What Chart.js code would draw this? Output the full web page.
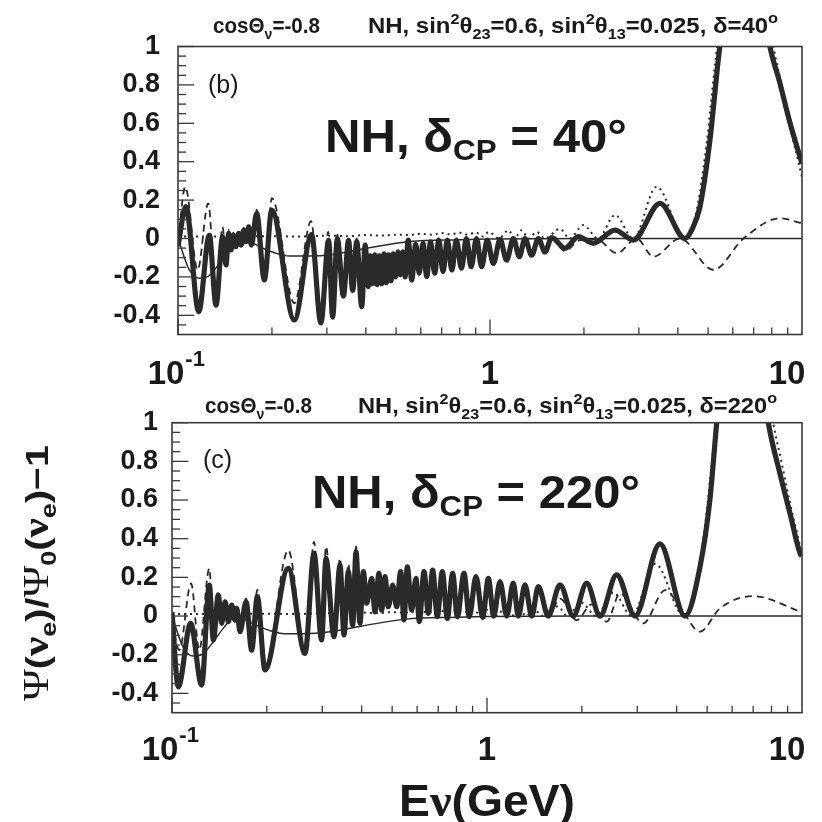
<!DOCTYPE html>
<html>
<head>
<meta charset="utf-8">
<script src="https://cdn.jsdelivr.net/npm/chart.js@4.4.1/dist/chart.umd.min.js"></script>
<style>
  html, body { margin: 0; padding: 0; background: #fff; }
  #wrap { position: relative; width: 822px; height: 822px; overflow: hidden; background: #fff; }
  canvas { position: absolute; left: 0; }
  #cTop { top: 0; }
  #cBot { top: 390px; }
</style>
</head>
<body>
<div id="wrap">
  <canvas id="cTop" width="822" height="390"></canvas>
  <canvas id="cBot" width="822" height="432"></canvas>
</div>
<script>
// ---- axis ticks ----
const yTickValues = [-0.4, -0.2, 0, 0.2, 0.4, 0.6, 0.8, 1];
const yTickLabels = ['-0.4', '-0.2', '0', '0.2', '0.4', '0.6', '0.8', '1'];
const xMajorTicks = [0.1, 1, 10];
const xTickBase = ['10', '1', '10'];
const xTickExp = ['-1', '', ''];

// ---- panel (b): NH, delta = 40 deg  [E (GeV), ratio - 1] ----
const fullB = [
  [0.1,-0.04],[0.106,0.166],[0.1165,-0.381],[0.126,0.017],[0.1324,-0.347],[0.139,0.01],
  [0.1425,-0.138],[0.1454,0.027],[0.1479,-0.06],[0.1504,0.018],[0.1534,-0.042],[0.1565,0.027],
  [0.1595,-0.034],[0.1624,0.044],[0.1652,-0.017],[0.1685,0.061],[0.1718,-0.034],[0.1787,0.131],
  [0.1891,-0.216],[0.1997,0.148],[0.236,-0.424],[0.268,0.02],[0.287,-0.44],[0.304,-0.01],
  [0.313,-0.41],[0.324,0.0],[0.339,-0.30],[0.352,-0.01],[0.363,-0.27],[0.374,-0.016],
  [0.388,-0.355],[0.398,-0.035],[0.407,-0.25],
  [0.4125,-0.09],[0.4197,-0.235],[0.427,-0.085],[0.4344,-0.24],[0.4419,-0.09],[0.4495,-0.235],
  [0.4574,-0.08],[0.4653,-0.23],[0.4733,-0.085],[0.4816,-0.22],[0.4899,-0.08],[0.4984,-0.2],
  [0.5071,-0.07],[0.5159,-0.19],[0.5249,-0.07],[0.534,-0.2],
  [0.547,-0.008],[0.561,-0.216],[0.578,-0.03],[0.593,-0.181],[0.61,-0.025],[0.627,-0.198],
  [0.645,-0.017],[0.665,-0.181],[0.685,-0.008],[0.707,-0.173],[0.73,-0.008],[0.755,-0.164],
  [0.78,-0.008],[0.81,-0.155],[0.84,0.0],[0.87,-0.147],[0.905,0.0],[0.94,-0.147],[0.98,-0.008],
  [1.025,-0.13],[1.077,-0.004],[1.13,-0.113],[1.188,0.0],[1.242,-0.095],[1.294,0.0],[1.36,-0.087],
  [1.429,0.0],[1.5,-0.07],[1.577,0.005],[1.739,-0.051],[1.919,0.01],[2.144,-0.025],[2.516,0.044],
  [2.88,-0.008],[3.507,0.183],[4.217,0.0],[4.45,0.05],[4.71,0.166],[5.07,0.513],[5.39,0.93],
  [5.7,1.25],[6.3,1.6],[7.1,1.45],[7.89,1.0],[8.5,0.808],[9.16,0.6],[10,0.39]
];
const dashedLowB = [
  [0.1,-0.02],[0.1055,0.27],[0.1156,-0.164],[0.125,0.183],[0.1324,-0.30],[0.139,0.06],
  [0.1425,-0.12],[0.1454,0.045],[0.1479,-0.05],[0.1504,0.03],[0.1534,-0.035],[0.1565,0.04],
  [0.1595,-0.03],[0.1624,0.055],[0.1652,-0.01],[0.1685,0.075],[0.1718,-0.025],[0.1787,0.15],
  [0.1891,-0.2],[0.2,0.21],[0.236,-0.337],[0.267,0.09],[0.287,-0.40],[0.303,0.035],
  [0.313,-0.38],[0.324,0.02],[0.339,-0.28],[0.352,0.0],[0.363,-0.26],[0.374,0.0],
  [0.388,-0.34],[0.398,-0.02]
];
const dashedHighB = [
  [1.5,-0.085],[1.58,-0.005],[1.74,-0.065],[1.93,-0.01],[2.2,-0.005],[2.55,-0.077],[2.95,0.0],
  [3.34,-0.095],[4.06,0.0],[5.2,-0.164],[6.49,0.0],[8.5,0.105],[10,0.079]
];

// ---- panel (c): NH, delta = 220 deg ----
const fullC = [
  [0.1,0.02],[0.1047,-0.366],[0.1146,-0.038],[0.1242,-0.357],[0.1314,0.16],[0.1353,-0.124],
  [0.1403,0.109],[0.1438,-0.038],[0.1474,0.074],[0.151,-0.029],[0.1547,0.057],[0.1585,-0.021],
  [0.1605,0.04],[0.1644,-0.081],[0.1718,0.074],[0.179,-0.176],[0.1866,0.1],[0.1973,-0.279],
  [0.234,0.247],[0.2644,-0.193],[0.2824,0.324],[0.2985,-0.124],[0.3082,0.298],
  [0.3268,-0.107],[0.3415,0.264],[0.3516,-0.098],[0.3629,0.23],[0.3747,-0.047],[0.3838,0.333],
  [0.3952,-0.038],[0.405,0.23],[0.415,0.066],[0.4305,0.195],[0.441,0.022],[0.454,0.221],
  [0.463,0.031],[0.4745,0.204],[0.486,0.048],[0.5018,0.16],[0.5167,0.048],[0.532,0.23],
  [0.545,-0.02],[0.5585,0.255],[0.5765,0.031],[0.5951,0.195],[0.6097,-0.029],[0.631,0.23],
  [0.6513,0.014],[0.6723,0.238],[0.6955,-0.003],[0.7214,0.23],[0.7482,-0.012],[0.778,0.221],
  [0.805,-0.003],[0.8453,0.221],[0.8786,-0.003],[0.9226,0.204],[0.9692,-0.007],[1.01,0.195],
  [1.05,0.0],[1.0997,0.178],[1.155,0.0],[1.212,0.17],[1.257,0.0],[1.32,0.161],[1.387,0.0],
  [1.455,0.152],[1.565,0.0],[1.705,0.161],[1.879,0.0],[2.073,0.17],[2.284,0.0],[2.58,0.213],
  [2.95,0.0],[3.54,0.373],[4.253,0.0],[4.746,0.255],[5.1,0.6],[5.36,0.997],[5.6,1.3],
  [6.2,1.7],[7.0,1.6],[7.82,1.0],[8.51,0.738],[9.16,0.531],[9.86,0.324],[10,0.31]
];
const dashedLowC = [
  [0.1,-0.03],[0.1055,-0.176],[0.115,0.169],[0.122,-0.176],[0.1314,0.247],[0.1353,-0.1],
  [0.1403,0.12],[0.1438,-0.03],[0.1474,0.08],[0.151,-0.025],[0.1547,0.06],[0.1585,-0.02],
  [0.1605,0.045],[0.1644,-0.075],[0.1718,0.09],[0.179,-0.17],[0.1866,0.136],[0.1973,-0.26],
  [0.234,0.341],[0.2644,-0.17],[0.2824,0.384],[0.2985,-0.11],[0.3082,0.36],[0.3268,-0.1],
  [0.3415,0.3],[0.3516,-0.09],[0.3629,0.27],[0.3747,-0.04],[0.3838,0.36],[0.3952,-0.03]
];
const dashedHighC = [
  [1.565,0.0],[1.705,0.09],[1.926,-0.021],[2.15,0.06],[2.399,-0.029],[2.644,0.117],
  [3.134,-0.038],[3.674,0.134],[4.1,0.048],[4.746,-0.081],[5.49,0.04],[7.0,0.103],[10,0.02]
];

// ---- curves common to both panels ----
const dottedCurve = [
  [0.1,0.01],[0.15,0.01],[0.2,0.012],[0.25,0.01],[0.3,0.015],[0.35,0.012],[0.4,0.018],[0.45,0.015],
  [0.5,0.02],[0.55,0.018],[0.6,0.025],[0.65,0.02],[0.7,0.028],[0.75,0.022],[0.8,0.03],[0.85,0.02],
  [0.9,0.032],[0.95,0.01],[0.99,0.034],[1.07,0.0],[1.145,0.043],[1.2,0.0],[1.26,0.043],[1.33,0.0],
  [1.41,0.034],[1.5,0.0],[1.676,0.05],[1.8,0.0],[1.99,0.07],[2.22,0.0],[2.516,0.122],[2.88,0.0],
  [3.42,0.27],[4.22,0.0],[4.6,0.15],[4.95,0.5],[5.3,0.95],[5.6,1.25],[6.2,1.6],[7.0,1.55],
  [7.6,1.3],[8.1,1.0],[8.6,0.8],[9.2,0.57],[10,0.32]
];
const thinCurve = [
  [0.1,0.0],[0.1087,-0.164],[0.117,-0.207],[0.1245,-0.199],[0.1357,-0.13],[0.146,-0.06],
  [0.1573,-0.008],[0.1693,-0.017],[0.1868,-0.05],[0.206,-0.077],[0.2275,-0.091],[0.2633,-0.091],
  [0.313,-0.083],[0.402,-0.051],[0.554,-0.016],[0.8,-0.006],[1.0,-0.002],[2,0],[10,0]
];

// where the dashed curve runs underneath the full curve it shares its points
const inRange = (pts, lo, hi) => pts.filter(p => p[0] > lo && p[0] < hi);
const dashedB = [...dashedLowB, ...inRange(fullB, 0.4, 1.49), ...dashedHighB];
const dashedC = [...dashedLowC, ...inRange(fullC, 0.4, 1.56), ...dashedHighC];

// ---- drawing helpers ----
const SANS = '"Liberation Sans", Arial, Helvetica, sans-serif';
const SERIF = '"Liberation Serif", "Times New Roman", serif';
const INK = '#1a1a1a';

function fontOf(r) {
  return `${r.w || 'bold'} ${r.s}px ${r.f === 'serif' ? SERIF : SANS}`;
}
// draws a run of differently sized pieces; if `fit` is given the run is
// squeezed or stretched horizontally to that width
function drawRich(ctx, runs, x, y, align, fit) {
  let w = 0;
  runs.forEach(r => { ctx.font = fontOf(r); r._w = ctx.measureText(r.t).width; w += r._w; });
  const k = fit ? fit / w : 1;
  const total = w * k;
  const x0 = align === 'center' ? x - total / 2 : (align === 'right' ? x - total : x);
  ctx.save();
  ctx.translate(x0, y);
  ctx.scale(k, 1);
  ctx.textAlign = 'left';
  ctx.textBaseline = 'alphabetic';
  let cx = 0;
  runs.forEach(r => { ctx.font = fontOf(r); ctx.fillText(r.t, cx, r.dy || 0); cx += r._w; });
  ctx.restore();
  return total;
}
const toXY = pts => pts.map(([x, y]) => ({ x, y }));

function subtitleRuns(delta) {
  return [
    { t: 'NH, sin', s: 22 }, { t: '2', s: 15, dy: -9 }, { t: 'θ', s: 22 }, { t: '23', s: 15, dy: 6 },
    { t: '=0.6, sin', s: 22 }, { t: '2', s: 15, dy: -9 }, { t: 'θ', s: 22 }, { t: '13', s: 15, dy: 6 },
    { t: '=0.025, δ=' + delta, s: 22 }, { t: 'o', s: 15, dy: -10 }
  ];
}
const cosRuns = [{ t: 'cosΘ', s: 22 }, { t: 'ν', s: 15, dy: 6 }, { t: '=-0.8', s: 22 }];

const panelDecor = {
  id: 'panelDecor',
  afterDatasetsDraw(chart, args, o) {
    const { ctx, chartArea: a, scales: { x, y } } = chart;
    const oy = o.offsetY;
    ctx.save();
    ctx.fillStyle = INK;
    ctx.strokeStyle = '#3a3a3a';

    // frame
    ctx.lineWidth = 1.6;
    ctx.strokeRect(a.left, a.top, a.right - a.left, a.bottom - a.top);

    // inward ticks on the left edge
    ctx.lineWidth = 1.3;
    for (let k = -9; k <= 20; k++) {
      const v = k * 0.05;
      const py = y.getPixelForValue(v);
      const len = (k % 4 === 0) ? 16 : 8;
      ctx.beginPath(); ctx.moveTo(a.left, py); ctx.lineTo(a.left + len, py); ctx.stroke();
    }
    // inward ticks on the bottom edge
    [0.1, 1].forEach(dec => {
      for (let m = 1; m <= 9; m++) {
        const v = dec * m;
        const px = x.getPixelForValue(v);
        const len = m === 1 ? 15 : 7;
        ctx.beginPath(); ctx.moveTo(px, a.bottom); ctx.lineTo(px, a.bottom - len); ctx.stroke();
      }
    });

    // x tick labels
    xMajorTicks.forEach((v, i) => {
      const px = x.getPixelForValue(v) + o.xLabelShift[i];
      const base = a.bottom + o.xLabelDrop;
      if (xTickExp[i]) {
        ctx.font = `bold 33px ${SANS}`;
        const wb = ctx.measureText(xTickBase[i]).width;
        drawRich(ctx, [{ t: xTickBase[i], s: 33 }], px - wb / 2, base, 'left');
        drawRich(ctx, [{ t: xTickExp[i], s: 22 }], px + wb / 2 + 1, base - 18, 'left');
      } else {
        drawRich(ctx, [{ t: xTickBase[i], s: 33 }], px, base, 'center');
      }
    });

    // headline above the frame
    drawRich(ctx, cosRuns, o.cosX[0], o.subY - oy, 'left', o.cosX[1] - o.cosX[0]);
    drawRich(ctx, subtitleRuns(o.delta), o.nhX[0], o.subY - oy, 'left', o.nhX[1] - o.nhX[0]);

    // panel tag
    drawRich(ctx, [{ t: o.tag, s: 25, w: 'normal' }], o.tagX, o.tagY - oy, 'left');

    // large label
    drawRich(ctx, [
      { t: 'NH, δ', s: 47 }, { t: 'CP', s: 30, dy: 8 }, { t: ' = ' + o.delta + '°', s: 47 }
    ], o.bigX[0], o.bigY - oy, 'left', o.bigX[1] - o.bigX[0]);

    if (o.axisTitles) {
      // x title
      drawRich(ctx, [{ t: 'E', s: 44 }, { t: 'ν', s: 46, f: 'serif' }, { t: '(GeV)', s: 44 }],
        487, 816 - oy, 'center', 176);
      // y title
      ctx.save();
      ctx.translate(37, 573 - oy);
      ctx.rotate(-Math.PI / 2);
      drawRich(ctx, [
        { t: 'Ψ', s: 35, f: 'serif', w: 'normal' }, { t: '(', s: 32 }, { t: 'ν', s: 35, f: 'serif' },
        { t: 'e', s: 22, dy: 8 }, { t: ')/', s: 32 }, { t: 'Ψ', s: 35, f: 'serif', w: 'normal' },
        { t: '0', s: 22, dy: 8 }, { t: '(', s: 32 }, { t: 'ν', s: 35, f: 'serif' },
        { t: 'e', s: 22, dy: 8 }, { t: ')−1', s: 32 }
      ], 0, 11, 'center', 256);
      ctx.restore();
    }
    ctx.restore();
  }
};

function makePanel(id, cfg) {
  const line = (data, width, dash, order) => ({
    data: toXY(data), borderColor: '#2a2a2a', borderWidth: width, borderDash: dash,
    pointRadius: 0, fill: false, cubicInterpolationMode: 'monotone', clip: 0, order
  });
  return new Chart(document.getElementById(id), {
    type: 'line',
    data: {
      datasets: [
        line(cfg.full, 5.2, [], 0),
        line(cfg.dashed, 1.8, [7, 5], 1),
        line(dottedCurve, 2, [2, 4], 2),
        line(thinCurve, 1.5, [], 3)
      ]
    },
    options: {
      responsive: false,
      animation: false,
      events: [],
      layout: { padding: { top: cfg.top, right: 20, left: 0, bottom: 0 } },
      plugins: { legend: { display: false }, tooltip: { enabled: false }, panelDecor: cfg.decor },
      scales: {
        x: {
          type: 'logarithmic', min: 0.1, max: 10,
          ticks: { display: false },
          grid: { display: false, drawTicks: false },
          border: { display: false },
          afterFit(s) { s.height = cfg.xAxisHeight; }
        },
        y: {
          type: 'linear', min: -0.5, max: 1,
          afterBuildTicks(s) { s.ticks = yTickValues.map(v => ({ value: v })); },
          ticks: {
            autoSkip: false,
            callback: (v, i) => yTickLabels[i],
            font: { family: SANS, size: 27, weight: 'bold' },
            color: INK,
            padding: cfg.yPad
          },
          grid: { display: false, drawTicks: false },
          border: { display: false },
          afterFit(s) { s.width = cfg.yAxisWidth; }
        }
      }
    },
    plugins: [panelDecor]
  });
}

makePanel('cTop', {
  full: fullB, dashed: dashedB, top: 46.5, xAxisHeight: 390 - 334.5, yAxisWidth: 178, yPad: 18,
  decor: {
    offsetY: 0, delta: '40', tag: '(b)', tagX: 208, tagY: 93, bigX: [325, 627], bigY: 152,
    cosX: [213, 320], nhX: [368, 778], subY: 33, xLabelDrop: 49, xLabelShift: [-12, 0, -15],
    axisTitles: false
  }
});
makePanel('cBot', {
  full: fullC, dashed: dashedC, top: 422.7 - 390, xAxisHeight: 432 - (712.7 - 390), yAxisWidth: 172, yPad: 14,
  decor: {
    offsetY: 390, delta: '220', tag: '(c)', tagX: 203, tagY: 468, bigX: [312, 640], bigY: 508,
    cosX: [205, 312], nhX: [358, 777], subY: 413, xLabelDrop: 47, xLabelShift: [-12, 0, -15],
    axisTitles: true
  }
});
</script>
</body>
</html>
